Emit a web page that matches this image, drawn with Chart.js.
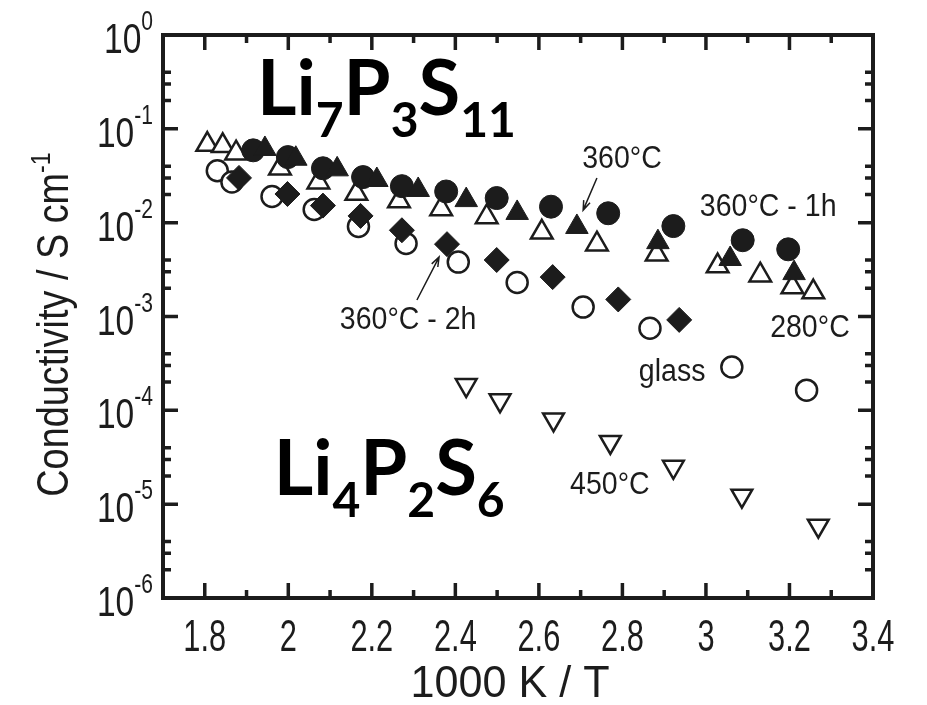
<!DOCTYPE html>
<html>
<head>
<meta charset="utf-8">
<script src="https://cdn.jsdelivr.net/npm/chart.js@4/dist/chart.umd.min.js"></script>
<style>
  html, body { margin: 0; padding: 0; background: #fff; }
  canvas { display: block; }
</style>
</head>
<body>
<canvas id="chart" width="927" height="705"></canvas>
<script>
// 1000/T values and conductivities (S/cm)
const glassX = [1.830, 1.865, 1.961, 2.062, 2.168, 2.282, 2.407, 2.548, 2.706, 2.866, 3.062, 3.241];
const glassY = [3.57e-2, 2.71e-2, 1.90e-2, 1.38e-2, 9.1e-3, 6.0e-3, 3.8e-3, 2.3e-3, 1.26e-3, 7.5e-4, 2.9e-4, 1.64e-4];

const c280X = [1.806, 1.843, 1.875, 1.980, 2.072, 2.163, 2.265, 2.366, 2.475, 2.607, 2.739, 2.882, 3.028, 3.130, 3.207, 3.257];
const c280Y = [6.8e-2, 6.6e-2, 5.5e-2, 3.8e-2, 2.7e-2, 2.04e-2, 1.7e-2, 1.4e-2, 1.15e-2, 7.9e-3, 5.9e-3, 4.6e-3, 3.45e-3, 2.76e-3, 2.06e-3, 1.82e-3];

const c360X = [1.944, 2.018, 2.117, 2.212, 2.311, 2.426, 2.548, 2.691, 2.885, 3.058, 3.211];
const c360Y = [6.1e-2, 4.8e-2, 3.7e-2, 2.85e-2, 2.23e-2, 1.74e-2, 1.27e-2, 9.0e-3, 6.2e-3, 4.1e-3, 2.9e-3];

const c360h1X = [1.916, 1.999, 2.083, 2.179, 2.272, 2.378, 2.499, 2.629, 2.766, 2.922, 3.088, 3.197];
const c360h1Y = [5.9e-2, 5.0e-2, 3.8e-2, 3.06e-2, 2.45e-2, 2.15e-2, 1.83e-2, 1.48e-2, 1.26e-2, 9.2e-3, 6.5e-3, 5.2e-3];

const c360h2X = [1.882, 1.998, 2.083, 2.173, 2.272, 2.380, 2.499, 2.633, 2.790, 2.936];
const c360h2Y = [3.0e-2, 2.02e-2, 1.52e-2, 1.18e-2, 8.3e-3, 5.9e-3, 4.0e-3, 2.63e-3, 1.52e-3, 9.2e-4];

const c450X = [2.426, 2.507, 2.635, 2.771, 2.922, 3.086, 3.269];
const c450Y = [1.86e-4, 1.28e-4, 8.0e-5, 4.6e-5, 2.5e-5, 1.23e-5, 5.9e-6];

const xTicks = [1.8, 2.0, 2.2, 2.4, 2.6, 2.8, 3.0, 3.2, 3.4];
const xTickLabels = ['1.8', '2', '2.2', '2.4', '2.6', '2.8', '3', '3.2', '3.4'];
const xMinor = [1.9, 2.1, 2.3, 2.5, 2.7, 2.9, 3.1, 3.3];
const yExponents = [0, -1, -2, -3, -4, -5, -6];

const INK = '#1c1c1c';
const SANS = '"Liberation Sans", Arial, sans-serif';
const pts = (xs, ys) => xs.map((x, i) => ({ x: x, y: ys[i] }));

// draw a run of text pieces [text, size, dy] on one line
function rich(ctx, parts, x, y, o) {
  ctx.save();
  ctx.translate(x, y);
  if (o.rot) ctx.rotate(o.rot);
  ctx.scale(o.sx || 1, 1);
  ctx.fillStyle = o.color || INK;
  ctx.textAlign = 'left';
  ctx.textBaseline = o.baseline || 'alphabetic';
  const fam = o.family || SANS, wt = o.weight || 'normal';
  let total = 0;
  const ws = parts.map(p => {
    ctx.font = wt + ' ' + p[1] + 'px ' + fam;
    const w = ctx.measureText(p[0]).width;
    total += w;
    return w;
  });
  let cx = o.align === 'center' ? -total / 2 : o.align === 'right' ? -total : 0;
  parts.forEach((p, i) => {
    ctx.font = wt + ' ' + p[1] + 'px ' + fam;
    ctx.fillText(p[0], cx, p[2] || 0);
    cx += ws[i];
  });
  ctx.restore();
}

function arrow(ctx, x1, y1, x2, y2) {
  const a = Math.atan2(y2 - y1, x2 - x1);
  ctx.save();
  ctx.strokeStyle = INK;
  ctx.lineWidth = 1.5;
  ctx.beginPath();
  ctx.moveTo(x1, y1);
  ctx.lineTo(x2, y2);
  ctx.moveTo(x2 - 10 * Math.cos(a - 0.35), y2 - 10 * Math.sin(a - 0.35));
  ctx.lineTo(x2, y2);
  ctx.lineTo(x2 - 10 * Math.cos(a + 0.35), y2 - 10 * Math.sin(a + 0.35));
  ctx.stroke();
  ctx.restore();
}

const frame = {
  id: 'frame',
  afterDraw(chart) {
    const ctx = chart.ctx;
    const { left, right, top, bottom } = chart.chartArea;
    const sx = chart.scales.x, sy = chart.scales.y;
    const X = v => sx.getPixelForValue(v), Y = v => sy.getPixelForValue(v);

    // inward ticks on all four sides
    ctx.save();
    ctx.strokeStyle = INK;
    ctx.lineWidth = 3.5;
    ctx.beginPath();
    const xt = (v, len) => {
      const px = X(v);
      ctx.moveTo(px, bottom); ctx.lineTo(px, bottom - len);
      ctx.moveTo(px, top); ctx.lineTo(px, top + len);
    };
    const yt = (v, len) => {
      const py = Y(v);
      ctx.moveTo(left, py); ctx.lineTo(left + len, py);
      ctx.moveTo(right, py); ctx.lineTo(right - len, py);
    };
    xTicks.forEach(v => xt(v, 15));
    xMinor.forEach(v => xt(v, 8));
    yExponents.forEach(k => {
      yt(Math.pow(10, k), 15);
      if (k < 0) [2, 3, 4].forEach(m => yt(m * Math.pow(10, k), 8));
    });
    ctx.stroke();
    ctx.lineWidth = 4;
    ctx.strokeRect(left, top, right - left, bottom - top);
    ctx.restore();

    // tick labels
    xTicks.forEach((v, i) => rich(ctx, [[xTickLabels[i], 44, 0]], X(v), bottom + 53, { align: 'center', sx: 0.7 }));
    yExponents.forEach(k => {
      const py = Y(Math.pow(10, k));
      rich(ctx, [['10', 43, 18], [k === 0 ? '0' : '-' + (-k), 27, -5]], left - 10, py, { align: 'right', sx: 0.78 });
    });

    // axis titles
    rich(ctx, [['1000 K / T', 44, 0]], 510, 697, { align: 'center', sx: 0.98 });
    rich(ctx, [['Conductivity / S cm', 44, 0], ['-1', 27, -18]], 68, (top + bottom) / 2 + 8,
      { align: 'center', rot: -Math.PI / 2, sx: 0.86 });

    // annotations
    const lab = (s, x, y) => rich(ctx, [[s, 31, 0]], X(x), Y(y), { align: 'center', baseline: 'middle', sx: 0.92 });
    lab('360°C', 2.799, 4.77e-2);
    lab('360°C - 1h', 3.149, 1.467e-2);
    lab('280°C', 3.249, 7.52e-4);
    lab('glass', 2.919, 2.55e-4);
    lab('450°C', 2.770, 1.6e-5);
    lab('360°C - 2h', 2.287, 9.16e-4);
    arrow(ctx, X(2.739), Y(2.99e-2), X(2.706), Y(1.36e-2));
    arrow(ctx, X(2.308), Y(1.50e-3), X(2.361), Y(4.3e-3));

    // compound formulas
    const big = { weight: 'bold', family: 'Lato, "Open Sans", sans-serif', color: '#000' };
    rich(ctx, [['Li', 76, 0], ['7', 48, 22], ['P', 76, 0], ['3', 48, 22], ['S', 76, 0], ['11', 48, 22]],
      X(1.925), Y(0.140), big);
    rich(ctx, [['Li', 76, 0], ['4', 48, 22], ['P', 76, 0], ['2', 48, 22], ['S', 76, 0], ['6', 48, 22]],
      X(1.965), Y(1.25e-5), big);
  }
};

const open = { backgroundColor: '#fff', borderColor: INK, borderWidth: 2.5 };
const solid = { backgroundColor: INK, borderColor: INK, borderWidth: 1 };

new Chart(document.getElementById('chart'), {
  type: 'scatter',
  data: {
    datasets: [
      Object.assign({ label: '360°C - 2h', data: pts(c360h2X, c360h2Y), pointStyle: 'rectRot', pointRadius: 12.5, order: 1 }, solid),
      Object.assign({ label: '360°C', data: pts(c360X, c360Y), pointStyle: 'triangle', pointRadius: 13, order: 2 }, solid),
      Object.assign({ label: '360°C - 1h', data: pts(c360h1X, c360h1Y), pointStyle: 'circle', pointRadius: 11.5, order: 3 }, solid),
      Object.assign({ label: '450°C', data: pts(c450X, c450Y), pointStyle: 'triangle', rotation: 180, pointRadius: 12, order: 4 }, open),
      Object.assign({ label: 'glass', data: pts(glassX, glassY), pointStyle: 'circle', pointRadius: 10.5, order: 5 }, open),
      Object.assign({ label: '280°C', data: pts(c280X, c280Y), pointStyle: 'triangle', pointRadius: 12.5, order: 6 }, open)
    ]
  },
  options: {
    responsive: false,
    animation: false,
    layout: { padding: { left: 163, right: 54, top: 35, bottom: 107 } },
    plugins: { legend: { display: false }, tooltip: { enabled: false } },
    scales: {
      x: { type: 'linear', min: 1.7, max: 3.4, display: false },
      y: { type: 'logarithmic', min: 1e-6, max: 1, display: false }
    }
  },
  plugins: [frame]
});
</script>
</body>
</html>
